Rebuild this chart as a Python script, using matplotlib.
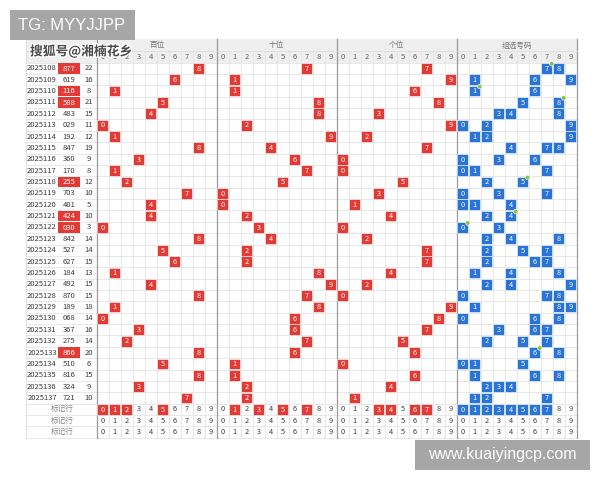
import matplotlib
matplotlib.use("Agg")
import matplotlib.pyplot as plt
import matplotlib.patheffects as pe
from matplotlib.patches import Rectangle, Circle

plt.rcParams['font.family'] = ['Noto Sans CJK SC', 'DejaVu Sans']

# draw data
periods = ["2025108", "2025109", "2025110", "2025111", "2025112", "2025113",
           "2025114", "2025115", "2025116", "2025117", "2025118", "2025119",
           "2025120", "2025121", "2025122", "2025123", "2025124", "2025125",
           "2025126", "2025127", "2025128", "2025129", "2025130", "2025131",
           "2025132", "2025133", "2025134", "2025135", "2025136", "2025137"]
draws = ["877", "619", "116", "588", "483", "029", "192", "847", "360", "170",
         "255", "703", "401", "424", "030", "842", "527", "627", "184", "492",
         "870", "189", "068", "367", "275", "866", "510", "816", "324", "721"]
sums = [22, 16, 8, 21, 15, 11, 12, 19, 9, 8, 12, 10, 5, 10, 3, 14, 14, 15,
        13, 15, 15, 18, 14, 16, 14, 20, 6, 15, 9, 10]
group_titles = ["百位", "十位", "个位", "组选号码"]
mark_label = "标记行"
mark_hundreds = [0, 1, 2, 5]
mark_tens = [1, 3, 5, 7]
mark_units = [3, 4, 6, 7]
mark_group = [0, 1, 2, 3, 4, 5, 6, 7]

RED = '#e23b36'
BLUE = '#2a74d8'
GREEN = '#8cc63f'
GRID = '#e4e4e4'
TXT = '#3a3a3a'

fig = plt.figure(figsize=(6, 4.8), dpi=100)
ax = fig.add_axes([0, 0, 1, 1])
ax.set_xlim(0, 600)
ax.set_ylim(480, 0)
ax.axis('off')

# layout (pixels)
left, right = 26, 576.7
x0, cw = 96.7, 12.0
top, h1, h2 = 39, 12, 11.6
y0, rh = top + h1 + h2, 11.37
nrows = len(periods) + 3
bottom = y0 + nrows * rh


def cx(g, d):
    return x0 + (g * 10 + d) * cw + cw / 2


def cy(i):
    return y0 + (i + 0.5) * rh


# header background
ax.add_patch(Rectangle((left, top), right - left, h1 + h2, color='#efefef', lw=0))

# grid
for k in range(41):
    x = x0 + k * cw
    ax.plot([x, x], [top + h1, bottom], color=GRID, lw=0.6, zorder=1)
for i in range(nrows + 1):
    y = y0 + i * rh
    ax.plot([left, right], [y, y], color=GRID, lw=0.6, zorder=1)
for g in range(5):
    x = x0 + g * 10 * cw
    ax.plot([x, x], [top, bottom], color='#9a9a9a', lw=0.9, zorder=2)
ax.plot([left, right], [top + h1, top + h1], color='#dddddd', lw=0.6)
ax.plot([left, left], [top, bottom], color='#dddddd', lw=0.6)

# header text
for g, t in enumerate(group_titles):
    ax.text(x0 + (g * 10 + 5) * cw, top + h1 / 2 + 0.5, t, ha='center', va='center',
            fontsize=5.5, color='#777777')
    for d in range(10):
        ax.text(cx(g, d), top + h1 + h2 / 2, str(d), ha='center', va='center',
                fontsize=5.5, color='#666666')

ax.text(81, top + h1 + 0.5, "搜狐号@湘楠花乡", ha='center', va='center', fontsize=9.2,
        color='#4a4a4a', weight='bold', zorder=6,
        path_effects=[pe.withStroke(linewidth=2, foreground='white')])


def cell(x, y, color, label, fs=5.3):
    ax.add_patch(Rectangle((x - 5.6, y - 5.4), 11.2, 10.8, facecolor=color,
                           edgecolor='white', lw=0.4, zorder=3))
    ax.text(x, y + 0.3, label, ha='center', va='center', fontsize=fs, color='white', zorder=4)


# data rows
for i, (p, num, s) in enumerate(zip(periods, draws, sums)):
    y = cy(i)
    ax.text(42, y, p, ha='center', va='center', fontsize=5.5, color=TXT)
    digits = [int(c) for c in num]
    repeated = len(set(digits)) < 3
    if repeated:
        ax.add_patch(Rectangle((58, y - 5.4), 22, 10.8, color=RED, lw=0, zorder=3))
        ax.text(69, y + 0.3, num, ha='center', va='center', fontsize=5.5, color='white', zorder=4)
    else:
        ax.text(69, y, num, ha='center', va='center', fontsize=5.5, color=TXT)
    ax.text(88.5, y, str(s), ha='center', va='center', fontsize=5.5, color=TXT)
    for g, d in enumerate(digits):
        cell(cx(g, d), y, RED, str(d))
    for d in sorted(set(digits)):
        cell(cx(3, d), y, BLUE, str(d))
    if repeated:
        dup = [d for d in set(digits) if digits.count(d) > 1][0]
        ax.add_patch(Circle((cx(3, dup) + 5, y - 4.5), 2.3, facecolor=GREEN,
                            edgecolor='white', lw=0.4, zorder=5))

# marker rows
marks = [mark_hundreds, mark_tens, mark_units, mark_group]
for r in range(3):
    i = len(periods) + r
    y = cy(i)
    ax.text(62, y, mark_label, ha='center', va='center', fontsize=5.5, color='#888888')
    for g in range(4):
        for d in range(10):
            if r == 0 and d in marks[g]:
                cell(cx(g, d), y, BLUE if g == 3 else RED, str(d))
            else:
                ax.text(cx(g, d), y, str(d), ha='center', va='center', fontsize=5.3, color=TXT)

# watermarks
ax.add_patch(Rectangle((10, 10), 125, 29.5, color='#a6a6a6', lw=0, zorder=7))
ax.text(72, 25, "TG: MYYJJPP", ha='center', va='center', fontsize=12, color='white',
        family='Liberation Sans', zorder=8)
ax.add_patch(Rectangle((415, 440), 175, 29.5, color='#a6a6a6', lw=0, zorder=7))
ax.text(502, 455, "www.kuaiyingcp.com", ha='center', va='center', fontsize=11.5,
        color='white', family='Liberation Sans', zorder=8)

fig.savefig("out.png", dpi=100)
